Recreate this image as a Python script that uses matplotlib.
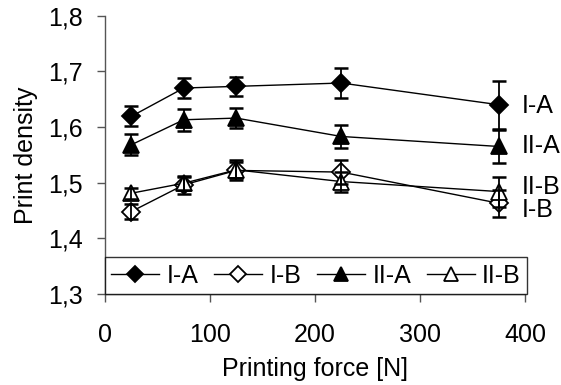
import numpy as np
import matplotlib
matplotlib.use("Agg")
import matplotlib.pyplot as plt

plt.rcParams["font.family"] = ["Liberation Sans", "DejaVu Sans"]

# printing force [N]
force = [25, 75, 125, 225, 375]

# print density per sample, with error bar half-widths
ia = [1.619, 1.670, 1.673, 1.679, 1.640]
ia_err = [0.018, 0.018, 0.017, 0.027, 0.043]
ib = [1.448, 1.496, 1.522, 1.519, 1.463]
ib_err = [0.013, 0.016, 0.018, 0.022, 0.024]
iia = [1.568, 1.613, 1.616, 1.583, 1.565]
iia_err = [0.019, 0.020, 0.018, 0.020, 0.029]
iib = [1.481, 1.499, 1.523, 1.502, 1.484]
iib_err = [0.010, 0.012, 0.014, 0.018, 0.027]

names = ["I-A", "I-B", "II-A", "II-B"]
values = [ia, ib, iia, iib]
errors = [ia_err, ib_err, iia_err, iib_err]
markers = ["D", "D", "^", "^"]
faces = ["black", "white", "black", "white"]

# end-of-line labels
end_labels = ["I-A", "II-A", "II-B", "I-B"]
end_label_y = [1.637, 1.565, 1.493, 1.451]

FS = 18

fig = plt.figure(figsize=(5.61, 3.85), dpi=100)
ax = fig.add_axes([0.1872, 0.2364, 0.7487, 0.7229])

handles = []
for name, val, err, mk, fc in zip(names, values, errors, markers, faces):
    ms = 9 if mk == "D" else 11
    h, = ax.plot(force, val, color="black", lw=1, marker=mk, ms=ms,
                 mfc=fc, mec="black", mew=1.3, label=name, zorder=2)
    ax.errorbar(force, val, yerr=err, fmt="none", ecolor="black",
                elinewidth=1.3, capsize=4.7, capthick=1.8, zorder=3)
    handles.append(h)

for txt, yv in zip(end_labels, end_label_y):
    ax.text(397, yv, txt, fontsize=FS, ha="left", va="center", clip_on=False)

ax.set_xlim(0, 400)
ax.set_ylim(1.3, 1.8)
ax.set_xticks([0, 100, 200, 300, 400])
yt = [1.3, 1.4, 1.5, 1.6, 1.7, 1.8]
ax.set_yticks(yt)
ax.set_yticklabels([f"{v:.1f}".replace(".", ",") for v in yt])
ax.tick_params(labelsize=FS, direction="out", length=6, width=1,
               color="#555555")
ax.tick_params(axis="x", pad=15)
ax.tick_params(axis="y", pad=10)

for s in ["top", "right"]:
    ax.spines[s].set_visible(False)
for s in ["left", "bottom"]:
    ax.spines[s].set_color("#555555")
    ax.spines[s].set_linewidth(1)

ax.set_xlabel("Printing force [N]", fontsize=FS, labelpad=7)
ax.set_ylabel("Print density", fontsize=FS, labelpad=7)

leg = ax.legend(handles=handles, loc="lower left", ncol=4, mode="expand",
                bbox_to_anchor=(0, 0, 1.005, 0.168), fontsize=FS,
                frameon=True, fancybox=False, borderaxespad=0,
                handlelength=1.9, handletextpad=0.3, columnspacing=0.4,
                borderpad=0.25, markerscale=0.9)
leg.get_frame().set_edgecolor("black")
leg.get_frame().set_linewidth(1)

fig.savefig("out.png", dpi=100)
